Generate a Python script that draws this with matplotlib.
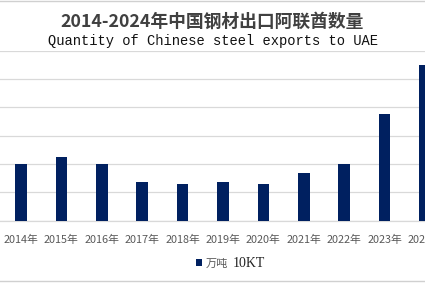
import matplotlib
matplotlib.use("Agg")
import matplotlib.pyplot as plt
from matplotlib.lines import Line2D

years = ["2014年", "2015年", "2016年", "2017年", "2018年", "2019年",
         "2020年", "2021年", "2022年", "2023年", "2024年"]
values = [100, 112, 100, 69, 65, 69, 65, 85, 100, 188, 275]
series_name = "万吨"
unit_label = "10KT"
title_cn = "2014-2024年中国钢材出口阿联酋数量"
title_en = "Quantity of Chinese steel exports to UAE"

W, H = 425, 283
fig = plt.figure(figsize=(W / 100, H / 100), dpi=100)
fig.patch.set_facecolor("white")

# axes spans full width; baseline at y=220.7px, top gridline at 50.9px
ax = fig.add_axes([0, (H - 220.7) / H, 1, (220.7 - 50.9) / H])
x = list(range(len(years)))
bars = ax.bar(x, values, width=0.29, color="#002060", label=series_name, zorder=3)
ax.set_xlim(-0.52, 10.0)
ax.set_ylim(0, 300)
ax.set_yticks(range(0, 301, 50))
ax.yaxis.grid(True, color="#d9d9d9", linewidth=0.9, zorder=0)
ax.tick_params(axis="y", left=False, labelleft=False)
ax.tick_params(axis="x", bottom=False, pad=7)
ax.set_xticks(x)
ax.set_xticklabels(years, fontsize=7.8, color="#595959",
                   family=["Noto Sans CJK SC", "DejaVu Sans"])
for s in ["top", "left", "right"]:
    ax.spines[s].set_visible(False)
ax.spines["bottom"].set_color("#d9d9d9")
ax.spines["bottom"].set_linewidth(0.9)

fig.text(0.5, 1 - 21.5 / H, title_cn, ha="center", va="center",
         fontsize=12.8, fontweight="bold", color="#404040",
         family=["Noto Sans CJK SC", "DejaVu Sans"])
fig.text(0.5, 1 - 41 / H, title_en, ha="center", va="center",
         fontsize=9.9, color="#111111", family="Liberation Mono")

leg = fig.legend(handles=[bars], labels=[series_name], loc="center",
                 bbox_to_anchor=(212 / W, 1 - 263.5 / H), frameon=False,
                 handlelength=0.55, handleheight=0.55, handletextpad=0.4,
                 prop={"family": ["Noto Sans CJK SC"], "size": 8})
for t in leg.get_texts():
    t.set_color("#595959")
fig.text(248.5 / W, 1 - 263.5 / H, unit_label, ha="center", va="center",
         fontsize=10, color="#222222", family="Liberation Serif")

# frame lines at top and bottom of the chart area
fig.add_artist(Line2D([0, 1], [1 - 1 / H, 1 - 1 / H], transform=fig.transFigure,
                      color="#d0d0d0", linewidth=1))
fig.add_artist(Line2D([0, 1], [1 - 281 / H, 1 - 281 / H], transform=fig.transFigure,
                      color="#d0d0d0", linewidth=1))

fig.savefig("out.png", dpi=100)
